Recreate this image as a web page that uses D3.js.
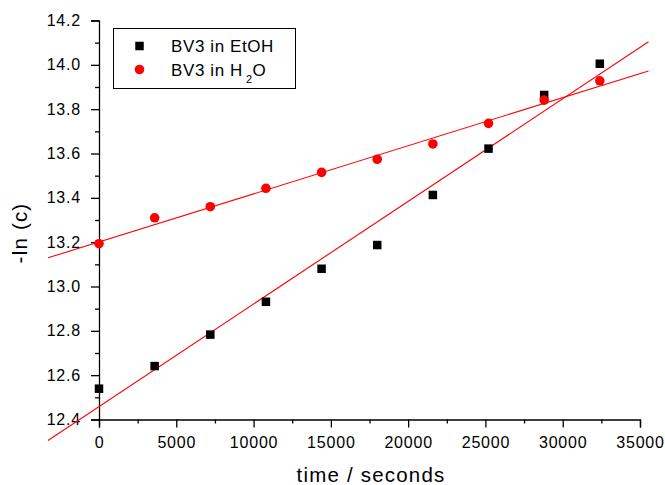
<!DOCTYPE html>
<html>
<head>
<meta charset="utf-8">
<script src="https://cdn.jsdelivr.net/npm/d3@7"></script>
<style>
body { margin: 0; background: #fff; }
svg { display: block; font-family: 'Liberation Sans', Arial, sans-serif; }
.tick text { font-size: 16px; letter-spacing: 0.8px; fill: #000; }
.domain, .tick line { stroke: #000; stroke-width: 1.3px; }
.label { font-size: 20.5px; letter-spacing: 1.2px; }
.legend text { font-size: 17px; letter-spacing: 0.6px; }
</style>
</head>
<body>
<svg id="plot" width="665" height="485"></svg>
<script>
const times = [0, 3600, 7200, 10800, 14400, 18000, 21600, 25200, 28800, 32400];
const etohValues = [12.539, 12.641, 12.783, 12.931, 13.080, 13.187, 13.413, 13.622, 13.864, 14.005];
const waterValues = [13.193, 13.310, 13.360, 13.443, 13.515, 13.574, 13.643, 13.736, 13.841, 13.928];

// linear fits as drawn in the figure: [intercept, slope]
const etohFit = [12.458, 4.63e-5];
const waterFit = [13.201, 2.17e-5];
const fitRange = [-3300, 35550];

const xTicks = [0, 5000, 10000, 15000, 20000, 25000, 30000, 35000];
const yTicks = [12.4, 12.6, 12.8, 13.0, 13.2, 13.4, 13.6, 13.8, 14.0, 14.2];

const svg = d3.select('#plot');

const xScale = d3.scaleLinear()
  .domain([0, 35000])
  .range([99, 640]);

const yScale = d3.scaleLinear()
  .domain([12.4, 14.2])
  .range([419.5, 20.5]);

// minor ticks
svg.append('g')
  .attr('transform', 'translate(0, 419.5)')
  .call(d3.axisBottom(xScale)
    .tickValues(xTicks.slice(0, -1).map(t => t + 2500))
    .tickSize(4)
    .tickFormat(''))
  .call(g => g.select('.domain').remove());

svg.append('g')
  .attr('transform', 'translate(99, 0)')
  .call(d3.axisLeft(yScale)
    .tickValues(yTicks.slice(0, -1).map(t => t + 0.1))
    .tickSize(4)
    .tickFormat(''))
  .call(g => g.select('.domain').remove());

svg.append('g')
  .attr('transform', 'translate(0, 419.5)')
  .call(d3.axisBottom(xScale)
    .tickValues(xTicks)
    .tickSizeOuter(0)
    .tickSize(8)
    .tickPadding(9)
    .tickFormat(d3.format('d')));

svg.append('g')
  .attr('transform', 'translate(99, 0)')
  .call(d3.axisLeft(yScale)
    .tickValues(yTicks)
    .tickSizeOuter(0)
    .tickSize(8)
    .tickPadding(10)
    .tickFormat(d3.format('.1f')));

svg.selectAll('.tick text').attr('font-family', null).attr('font-size', null);

// fit lines
const fitLine = d3.line()
  .x(d => xScale(d[0]))
  .y(d => yScale(d[1]));

[etohFit, waterFit].forEach(f => {
  svg.append('path')
    .datum(fitRange.map(t => [t, f[0] + f[1] * t]))
    .attr('d', fitLine)
    .attr('fill', 'none')
    .attr('stroke', '#ff0000')
    .attr('stroke-width', 1.1);
});

// data points
const sq = 8.5;
svg.append('g')
  .selectAll('rect')
  .data(times.map((t, i) => [t, etohValues[i]]))
  .enter()
  .append('rect')
  .attr('x', d => xScale(d[0]) - sq / 2)
  .attr('y', d => yScale(d[1]) - sq / 2)
  .attr('width', sq)
  .attr('height', sq)
  .attr('fill', '#000');

svg.append('g')
  .selectAll('circle')
  .data(times.map((t, i) => [t, waterValues[i]]))
  .enter()
  .append('circle')
  .attr('cx', d => xScale(d[0]))
  .attr('cy', d => yScale(d[1]))
  .attr('r', 4.8)
  .attr('fill', '#ff0000');

// axis titles
svg.append('text')
  .attr('class', 'label')
  .attr('x', 371)
  .attr('y', 481.5)
  .attr('text-anchor', 'middle')
  .text('time / seconds');

svg.append('text')
  .attr('class', 'label')
  .attr('transform', 'translate(26.5, 233) rotate(-90)')
  .attr('text-anchor', 'middle')
  .text('-ln (c)');

// legend
const legend = svg.append('g').attr('class', 'legend');

legend.append('rect')
  .attr('x', 113.5)
  .attr('y', 28.5)
  .attr('width', 182)
  .attr('height', 60)
  .attr('fill', '#fff')
  .attr('stroke', '#000')
  .attr('stroke-width', 1);

legend.append('rect')
  .attr('x', 139.5 - sq / 2)
  .attr('y', 46 - sq / 2)
  .attr('width', sq)
  .attr('height', sq)
  .attr('fill', '#000');

legend.append('circle')
  .attr('cx', 139.5)
  .attr('cy', 69.5)
  .attr('r', 4.8)
  .attr('fill', '#ff0000');

legend.append('text')
  .attr('x', 171)
  .attr('y', 52.3)
  .text('BV3 in EtOH');

const h2o = legend.append('text')
  .attr('x', 171)
  .attr('y', 75.7);
h2o.append('tspan').text('BV3 in H');
h2o.append('tspan')
  .attr('dx', 3)
  .attr('dy', 7.5)
  .style('font-size', '11px')
  .text('2');
h2o.append('tspan')
  .attr('dx', 0)
  .attr('dy', -7.5)
  .text('O');
</script>
</body>
</html>
